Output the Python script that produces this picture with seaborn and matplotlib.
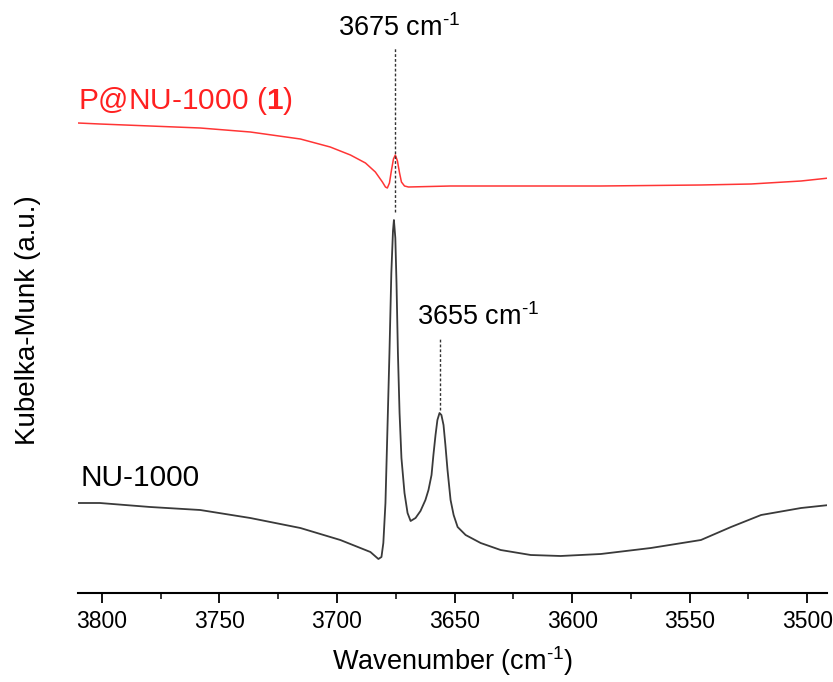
import numpy as np
import pandas as pd
import matplotlib
matplotlib.use("Agg")
import matplotlib.pyplot as plt
import seaborn as sns
from matplotlib.ticker import MultipleLocator

# Data (wavenumber in cm^-1, Kubelka-Munk in arbitrary units incl. vertical offset)
nu_wn = [3810.2, 3800.9, 3779.5, 3758.2, 3736.9, 3715.6, 3698.6, 3685.8, 3682.4, 3681.1,
         3680.3, 3679.4, 3678.6, 3677.7, 3676.9, 3676.2, 3675.8, 3675.2, 3674.7, 3674.1,
         3673.4, 3672.6, 3671.3, 3670.0, 3668.7, 3666.6, 3664.5, 3662.4, 3661.1, 3659.8,
         3659.0, 3658.1, 3657.3, 3656.4, 3655.6, 3654.7, 3653.9, 3653.0, 3651.7, 3650.4,
         3648.7, 3645.3, 3638.9, 3630.4, 3617.6, 3604.9, 3587.8, 3566.5, 3545.2, 3532.4,
         3519.6, 3502.6, 3490.7]
nu_km = [0.90, 0.90, 0.86, 0.83, 0.75, 0.65, 0.53, 0.41, 0.34, 0.36,
         0.50, 0.90, 1.60, 2.40, 3.20, 3.62, 3.73, 3.55, 3.10, 2.40,
         1.80, 1.35, 1.00, 0.80, 0.72, 0.75, 0.82, 0.93, 1.03, 1.18,
         1.38, 1.58, 1.73, 1.80, 1.78, 1.68, 1.48, 1.23, 0.93, 0.78,
         0.66, 0.58, 0.50, 0.43, 0.38, 0.37, 0.39, 0.45, 0.53, 0.66,
         0.78, 0.85, 0.88]

p_wn = [3810.2, 3800.9, 3779.5, 3758.2, 3736.9, 3715.6, 3702.9, 3694.3, 3687.9, 3683.7,
        3680.7, 3679.4, 3678.6, 3677.7, 3676.9, 3676.0, 3675.2, 3674.3, 3673.4, 3672.6,
        3671.3, 3669.6, 3651.7, 3630.4, 3587.8, 3545.2, 3523.9, 3502.6, 3490.7]
p_km = [4.70, 4.69, 4.67, 4.65, 4.61, 4.54, 4.46, 4.38, 4.30, 4.21,
        4.11, 4.06, 4.05, 4.10, 4.22, 4.34, 4.38, 4.32, 4.20, 4.11,
        4.07, 4.06, 4.07, 4.07, 4.07, 4.08, 4.09, 4.12, 4.15]

peak_labels = ["3675 cm$^{\u20101}$", "3655 cm$^{\u20101}$"]
xticks = [3800, 3750, 3700, 3650, 3600, 3550, 3500]

sns.set_theme(style="white")
plt.rcParams["font.family"] = ["Liberation Sans", "DejaVu Sans"]
plt.rcParams["mathtext.fontset"] = "custom"
plt.rcParams["mathtext.rm"] = "Liberation Sans"
plt.rcParams["mathtext.it"] = "Liberation Sans:italic"
plt.rcParams["mathtext.bf"] = "Liberation Sans:bold"
plt.rcParams["text.color"] = "black"
plt.rcParams["axes.labelcolor"] = "black"
plt.rcParams["xtick.color"] = "black"
plt.rcParams["xtick.labelcolor"] = "black"

fig = plt.figure(figsize=(8.33, 6.82), dpi=100)
ax = fig.add_axes([0.0936, 0.1305, 0.8994, 0.8695])

df_nu = pd.DataFrame({"wn": nu_wn, "km": nu_km})
df_p = pd.DataFrame({"wn": p_wn, "km": p_km})
sns.lineplot(data=df_nu, x="wn", y="km", ax=ax, color="#3a3a3a", lw=1.3, sort=False)
sns.lineplot(data=df_p, x="wn", y="km", ax=ax, color="#ff3535", lw=1.1, sort=False)

ax.set_xlim(3810.2, 3491.5)
ax.set_ylim(0, 5.93)

# dashed peak markers
ax.plot([3675.2, 3675.2], [3.81, 5.46], ls=(0, (2, 1.5)), color="#333333", lw=1.0)
ax.plot([3656.2, 3656.2], [1.83, 2.55], ls=(0, (2, 1.5)), color="#333333", lw=1.0)

ax.text(3673.5, 5.65, peak_labels[0], ha="center", va="center", fontsize=19.5, color="black")
ax.text(3640, 2.76, peak_labels[1], ha="center", va="center", fontsize=19.5, color="black")
ax.text(3810, 4.92, r"P@NU-1000 ($\mathbf{1}$)", ha="left", va="center", fontsize=21.5, color="#ff2020")
ax.text(3809, 1.15, "NU-1000", ha="left", va="center", fontsize=21.5, color="black")

for s in ["top", "right", "left"]:
    ax.spines[s].set_visible(False)
ax.spines["bottom"].set_color("black")
ax.spines["bottom"].set_linewidth(1.5)
ax.set_yticks([])
ax.set_xticks(xticks)
ax.xaxis.set_minor_locator(MultipleLocator(25))
ax.tick_params(axis="x", which="major", direction="out", length=7, width=1.3, labelsize=16.5,
               pad=5, bottom=True, colors="black")
ax.tick_params(axis="x", which="minor", direction="out", length=4, width=1.1, bottom=True, colors="black")
ax.set_xlabel("Wavenumber (cm$^{\u20101}$)", fontsize=19.5, labelpad=8, color="black")
ax.set_ylabel("Kubelka-Munk (a.u.)", fontsize=20, color="black")
ax.yaxis.set_label_coords(-0.05, 0.46)

fig.savefig("out.png", dpi=100)
